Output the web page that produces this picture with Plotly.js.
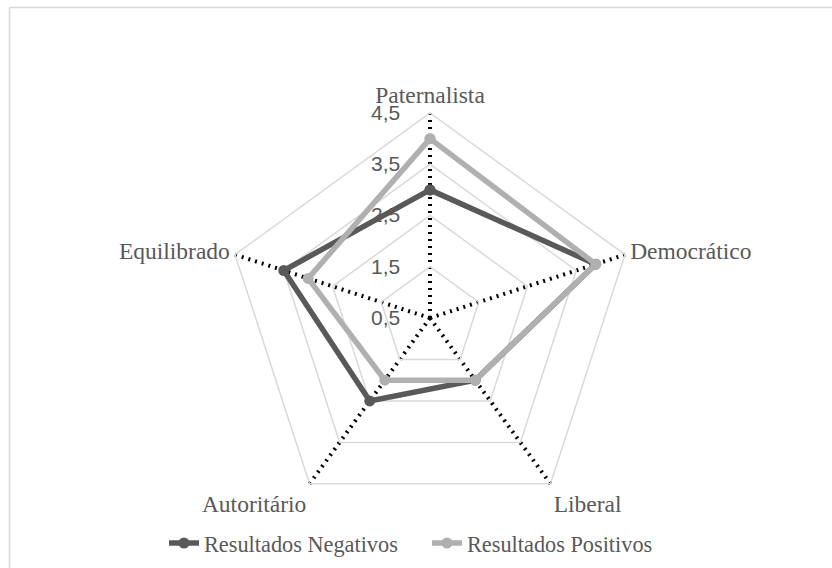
<!DOCTYPE html>
<html>
<head>
<meta charset="utf-8">
<script src="https://cdn.plot.ly/plotly-3.0.1.min.js"></script>
<style>html,body{margin:0;padding:0;background:#fff;}#chart{width:832px;height:568px;}</style>
</head>
<body>
<div id="chart"></div>
<script>
const categories = ["Paternalista", "Democrático", "Liberal", "Autoritário", "Equilibrado"];
const negativos = [3.0, 3.9, 2.0, 2.5, 3.5];
const positivos = [4.0, 3.9, 2.0, 2.0, 3.0];
const seriesNames = ["Resultados Negativos", "Resultados Positivos"];
const radialTicks = [0.5, 1.5, 2.5, 3.5, 4.5];

const W = 832, H = 568;
const cx = 430, cy = 318, R = 205;

function closed(a) { return a.concat([a[0]]); }

const tr = [
  {
    type: "scatterpolar",
    r: closed(negativos), theta: closed(categories),
    name: seriesNames[0], mode: "lines+markers",
    line: {color: "#595959", width: 5.5},
    marker: {color: "#595959", size: 11},
    cliponaxis: false
  },
  {
    type: "scatterpolar",
    r: closed(positivos), theta: closed(categories),
    name: seriesNames[1], mode: "lines+markers",
    line: {color: "#b0b0b0", width: 5.5},
    marker: {color: "#b0b0b0", size: 11},
    cliponaxis: false
  }
];

const layout = {
  width: W, height: H,
  margin: {l: 0, r: 0, t: 0, b: 0},
  paper_bgcolor: "#ffffff",
  separators: ",.",
  showlegend: true,
  font: {family: "Liberation Serif, serif", color: "#595959"},
  legend: {
    orientation: "h", x: 164 / W, xanchor: "left", y: 1 - 543 / H, yanchor: "middle",
    font: {family: "Liberation Serif, serif", size: 22.3, color: "#595959"},
    entrywidth: 218, entrywidthmode: "pixels",
    traceorder: "normal"
  },
  polar: {
    domain: {x: [(cx - R) / W, (cx + R) / W], y: [(H - cy - R) / H, (H - cy + R) / H]},
    gridshape: "linear",
    bgcolor: "#ffffff",
    radialaxis: {
      range: [0.5, 4.5],
      tickvals: radialTicks,
      ticktext: radialTicks.map(v => v.toFixed(1).replace(".", ",")),
      angle: 90, tickangle: 90, side: "counterclockwise",
      showline: false, ticks: "outside", ticklen: 22, tickcolor: "rgba(0,0,0,0)",
      gridcolor: "#d9d9d9", gridwidth: 1.5,
      tickfont: {family: "Liberation Sans, sans-serif", size: 21, color: "#595959"}
    },
    angularaxis: {
      direction: "clockwise", rotation: 90,
      showline: true, linecolor: "#d9d9d9", linewidth: 1.5,
      gridcolor: "#000000", gridwidth: 4, griddash: "2px,5px",
      ticks: "",
      tickfont: {family: "Liberation Serif, serif", size: 23.5, color: "#595959"}
    }
  },
  shapes: [
    {type: "line", xref: "paper", yref: "paper", x0: 9.5 / W, x1: 1.01, y0: 1 - 7.5 / H, y1: 1 - 7.5 / H, line: {color: "#d9d9d9", width: 1.5}},
    {type: "line", xref: "paper", yref: "paper", x0: 9.5 / W, x1: 9.5 / W, y0: 1 - 7.5 / H, y1: -0.01, line: {color: "#d9d9d9", width: 1.5}}
  ]
};

Plotly.newPlot("chart", tr, layout, {displayModeBar: false, staticPlot: true});
</script>
</body>
</html>
